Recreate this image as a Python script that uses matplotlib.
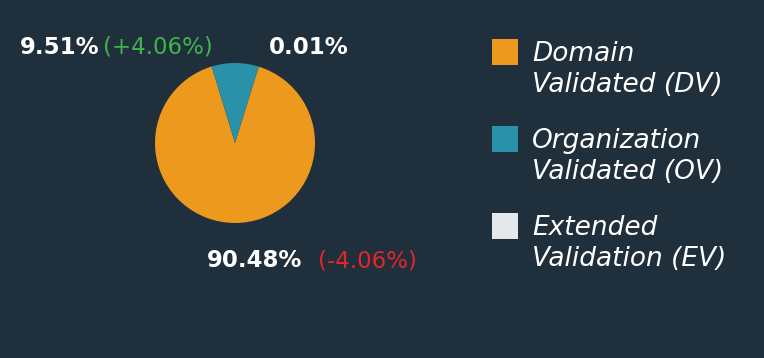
import matplotlib
matplotlib.use("Agg")
import matplotlib.pyplot as plt
from matplotlib.patches import Rectangle

categories = ["Domain\nValidated (DV)", "Organization\nValidated (OV)", "Extended\nValidation (EV)"]
shares = [90.48, 9.51, 0.01]
changes = [-4.06, 4.06, None]
colors = ["#ED991E", "#2A92A8", "#E4E8EA"]

BG = "#1F2F3C"
W, H = 764, 358
fig = plt.figure(figsize=(W / 100, H / 100), dpi=100, facecolor=BG)

def fx(x):
    return x / W

def fy(y):
    return 1 - y / H

# pie
cx, cy, r = 235, 143, 80
ax = fig.add_axes([fx(cx - r), fy(cy + r), 2 * r / W, 2 * r / H])
ax.set_facecolor(BG)
ax.pie(shares, colors=colors, startangle=72.7, counterclock=False, radius=1,
       wedgeprops=dict(linewidth=0))
ax.set_xlim(-1, 1)
ax.set_ylim(-1, 1)
ax.set_aspect("equal")
ax.axis("off")

FONT = "DejaVu Sans"
bold = dict(color="white", fontsize=16.5, fontweight="bold", family=FONT, va="baseline")
normal = dict(fontsize=16.5, family=FONT, va="baseline")

# value labels: (x_left, baseline, x_change_left)
label_pos = {0: (207, 267, 318), 1: (20, 54, 103), 2: (269, 54, None)}
for i, v in enumerate(shares):
    x0, y0, x1 = label_pos[i]
    fig.text(fx(x0), fy(y0), f"{v:.2f}%", ha="left", **bold)
    if changes[i] is not None:
        c = changes[i]
        col = "#3DB54A" if c > 0 else "#E2262B"
        fig.text(fx(x1), fy(y0), f"({c:+.2f}%)", ha="left", color=col, **normal)

# legend
sq_top = [39, 126, 213]
for i, (lab, col) in enumerate(zip(categories, colors)):
    t = sq_top[i]
    fig.add_artist(Rectangle((fx(492), fy(t + 26)), 26 / W, 26 / H,
                             transform=fig.transFigure, facecolor=col, edgecolor="none"))
    for j, line in enumerate(lab.split("\n")):
        fig.text(fx(532), fy(t + 22 + 31 * j), line, ha="left", va="baseline",
                 color="white", fontsize=19, style="italic", family=FONT)

fig.savefig("out.png", dpi=100, facecolor=BG)
